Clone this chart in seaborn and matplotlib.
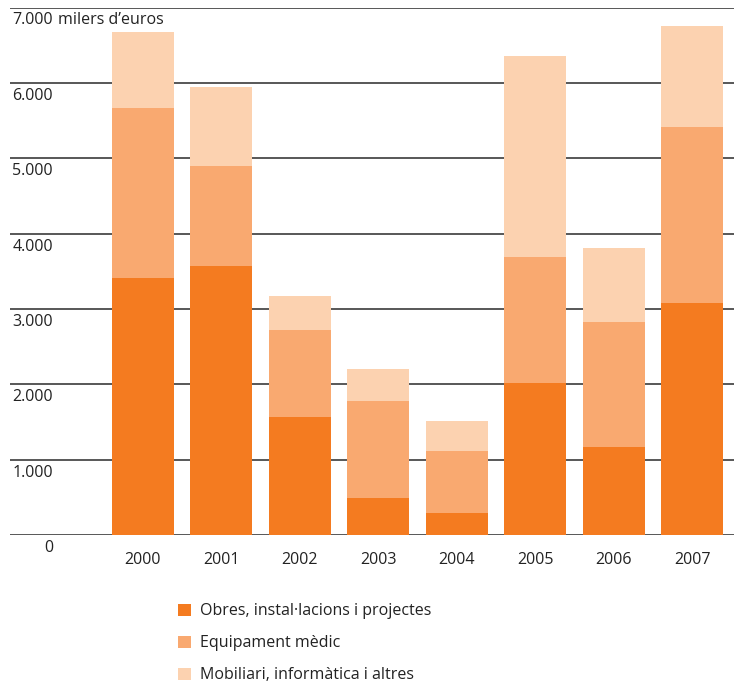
import numpy as np
import pandas as pd
import matplotlib.pyplot as plt
import seaborn as sns
from matplotlib.patches import Patch
from matplotlib import transforms

# Dades (milers d'euros)
anys = ['2000', '2001', '2002', '2003', '2004', '2005', '2006', '2007']
obres = [3410, 3570, 1570, 490, 295, 2020, 1170, 3080]
equipament = [2250, 1330, 1150, 1290, 820, 1670, 1660, 2340]
mobiliari = [1010, 1040, 455, 425, 400, 2670, 980, 1330]

series_noms = ['Obres, instal·lacions i projectes', 'Equipament mèdic',
               'Mobiliari, informàtica i altres']
colors = ['#F47B20', '#F9A970', '#FCD2B0']
y_ticks = [0, 1000, 2000, 3000, 4000, 5000, 6000, 7000]
y_labels = ['0', '1.000', '2.000', '3.000', '4.000', '5.000', '6.000', '7.000']

df = pd.DataFrame({'any': anys, 'obres': obres, 'equip': equipament, 'mobil': mobiliari})
df['c1'] = df['obres']
df['c2'] = df['obres'] + df['equip']
df['c3'] = df['c2'] + df['mobil']

sns.set_style('white')
plt.rcParams['font.family'] = ['Open Sans', 'DejaVu Sans']

FS = 11.5
W, H = 734, 686
fig = plt.figure(figsize=(W / 100, H / 100), dpi=100)
ax = fig.add_axes([10 / W, 151 / H, 724 / W, (535 - 7.5) / H])

# gridlines
for v in y_ticks:
    ax.axhline(v, color='#4a4a4a', lw=1.3, zorder=0)

# barres apilades (de dalt a baix)
for col, c in zip(['c3', 'c2', 'c1'], colors[::-1]):
    sns.barplot(data=df, x='any', y=col, color=c, width=0.79, ax=ax,
                saturation=1, zorder=2, linewidth=0, edgecolor='none')

ax.set_ylim(0, 7000)
ax.set_xlim(-1.694, 7.53)
ax.set_xlabel('')
ax.set_ylabel('')
ax.set_yticks([])
for s in ax.spines.values():
    s.set_visible(False)
ax.tick_params(axis='x', length=0, pad=12.5, labelsize=FS, labelcolor='#222222')

# etiquetes de l'eix y
trans = transforms.blended_transform_factory(ax.transAxes, ax.transData)
off = transforms.offset_copy(trans, fig=fig, x=0, y=-5, units='dots')
x_r = (53 - 10) / 724
for v, lab in zip(y_ticks, y_labels):
    ax.text(x_r, v, lab, transform=off, ha='right', va='top',
            fontsize=FS, color='#222222')
ax.text(x_r + 5 / 724, 7000, 'milers d’euros', transform=off, ha='left', va='top',
        fontsize=FS, color='#222222')

# llegenda
handles = [Patch(facecolor=c, edgecolor='none') for c in colors]
fig.legend(handles, series_noms, loc='upper left',
           bbox_to_anchor=(172 / W, 1 - 597 / H), frameon=False,
           fontsize=FS, labelcolor='#222222', handlelength=0.8, handleheight=0.8,
           handletextpad=0.55, labelspacing=1.0, borderaxespad=0)

fig.savefig('out.png', dpi=100)
